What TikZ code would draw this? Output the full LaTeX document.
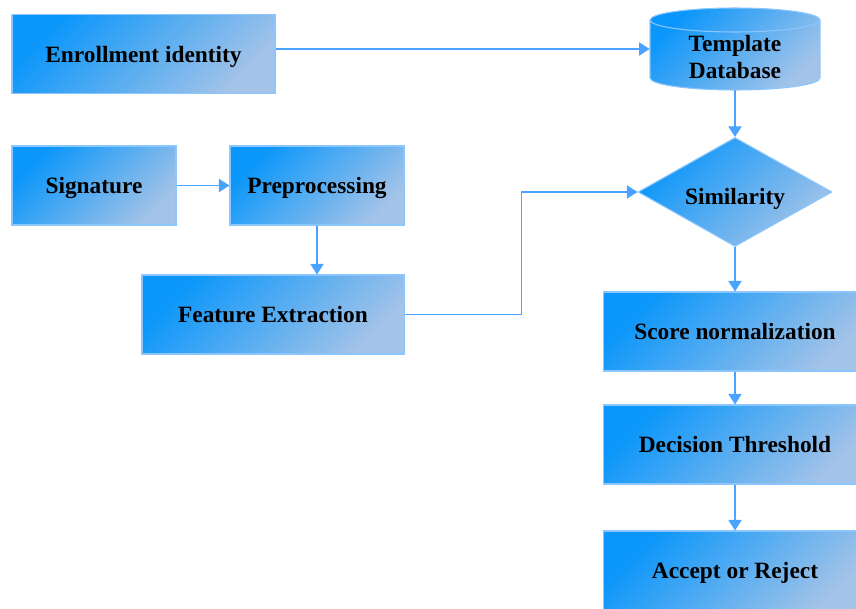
\documentclass[tikz,border=0pt]{standalone}
\usepackage{fontspec}
\setmainfont{Liberation Serif}
\usetikzlibrary{arrows.meta,shapes.geometric}

\definecolor{gradA}{HTML}{0A96FA}
\definecolor{gradB}{HTML}{A3C3E8}
\definecolor{edgeblue}{HTML}{8CC6FF}
\definecolor{linkblue}{HTML}{4AA3FF}

\tikzset{
  fillgrad/.style={shading=axis, top color=gradA, bottom color=gradB, shading angle=45},
  stepbox/.style={fillgrad, draw=edgeblue, line width=0.6pt, rectangle,
    minimum height=1.58cm, inner sep=0pt, text depth=0pt},
  label text/.style={font=\fontsize{13.3}{16}\selectfont\bfseries, text=black, align=center},
  link/.style={draw=linkblue, line width=0.7pt, -{Triangle[length=6pt,width=7.5pt]}}
}

\begin{document}
\begin{tikzpicture}[x=0.02cm, y=0.02cm]
  \clip (0,0) rectangle (856,609);
  \fill[white] (0,0) rectangle (856,609);

  % left column
  \node[stepbox, minimum width=5.26cm, label text] (enr) at (143.5,555) {Enrollment identity};
  \node[stepbox, minimum width=3.28cm, label text] (sig) at (94,423.5) {Signature};
  \node[stepbox, minimum width=3.48cm, label text] (pre) at (317,423.5) {Preprocessing};
  \node[stepbox, minimum width=5.24cm, label text] (fe) at (273,294.5) {Feature Extraction};

  % template database cylinder
  \path[fillgrad, draw=edgeblue, line width=0.6pt]
    (650,589) -- (650,531)
    arc[start angle=180, end angle=360, x radius=1.7cm, y radius=0.24cm]
    -- (820,589)
    arc[start angle=0, end angle=180, x radius=1.7cm, y radius=0.24cm] -- cycle;
  \draw[edgeblue, line width=0.6pt] (650,589)
    arc[start angle=180, end angle=360, x radius=1.7cm, y radius=0.24cm];
  \node[inner sep=0pt, minimum width=3.4cm, minimum height=1.64cm] (db) at (735,560) {};
  \node[label text] (dbtext) at (735,552) {Template\\[-1pt]Database};

  % similarity decision
  \node[diamond, fillgrad, draw=edgeblue, line width=0.6pt, inner sep=0pt,
        minimum width=3.88cm, minimum height=2.18cm] (sim) at (735,417) {};
  \node[label text] (simtext) at (735,410) {Similarity};

  % right column
  \node[stepbox, minimum width=5.28cm, label text] (score) at (735,277.5) {Score normalization};
  \node[stepbox, minimum width=5.28cm, label text] (dec) at (735,164.5) {Decision Threshold};
  \node[stepbox, minimum width=5.28cm, label text] (acc) at (735,38.5) {Accept or Reject};

  % connectors
  \draw[link] (enr.east |- db.west) -- (db.west);
  \draw[link] (db.south) -- (sim.north);
  \draw[link] (sig.east) -- (pre.west);
  \draw[link] (pre.south) -- (pre.south |- fe.north);
  \draw[link] (fe.east) -- ++(117,0) |- (sim.west);
  \draw[link] (sim.south) -- (score.north);
  \draw[link] (score.south) -- (dec.north);
  \draw[link] (dec.south) -- (acc.north);
\end{tikzpicture}
\end{document}
